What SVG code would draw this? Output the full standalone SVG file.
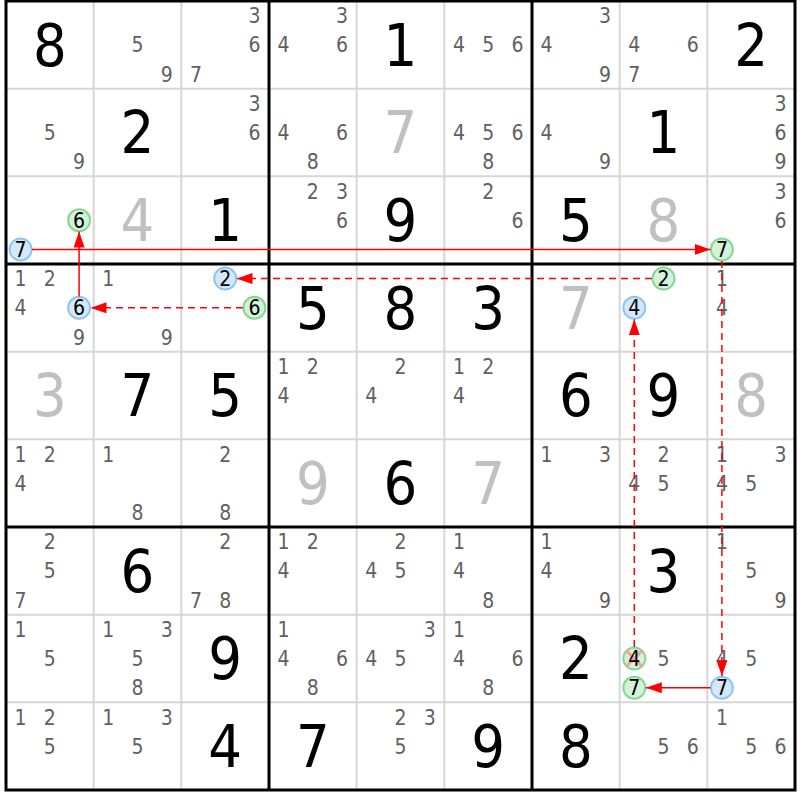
<svg xmlns="http://www.w3.org/2000/svg" width="800" height="800" viewBox="0 0 800 800">
<style>
text{font-family:"DejaVu Sans Condensed","DejaVu Sans",sans-serif;text-anchor:middle}
.k{font-size:59px;fill:#000}
.s{font-size:59px;fill:#c0c0c0}
.c{font-size:21px;fill:#606060}
.n{font-size:21px;fill:#000}
.thin{stroke:#d6d6d6;stroke-width:2}
.thick{stroke:#000;stroke-width:3}
.cb{fill:#d4e8fc;stroke:#90c4f4;stroke-width:2}
.cg{fill:#d4f2da;stroke:#84d890;stroke-width:2}
.a{stroke:#ff0000;stroke-width:1.5;fill:none;marker-end:url(#ah)}
.d{stroke-dasharray:7,5}
</style>
<defs>
<marker id="ah" markerUnits="userSpaceOnUse" markerWidth="16" markerHeight="11" refX="16" refY="5.5" orient="auto">
<path d="M0,0 L16,5.5 L0,11 Z" fill="#ff0000"/>
</marker>
</defs>
<rect x="0" y="0" width="800" height="800" fill="#fff"/>
<g id="grid">
<path class="thin" d="M93.67,1V790M181.33,1V790M356.67,1V790M444.33,1V790M619.67,1V790M707.33,1V790M6,88.67H795M6,176.33H795M6,351.67H795M6,439.33H795M6,614.67H795M6,702.33H795"/>
<path class="thick" d="M269,1V790M532,1V790M6,264H795M6,527H795"/>
<rect class="thick" x="6" y="1" width="789" height="789" fill="none"/>
</g>
<g id="r1">
<text class="k" x="49.8" y="65.5">8</text>
<text class="c" x="137.5" y="52.4">5</text><text class="c" x="166.7" y="81.7">9</text>
<text class="c" x="254.4" y="23.2">3</text><text class="c" x="254.4" y="52.4">6</text><text class="c" x="195.9" y="81.7">7</text>
<text class="c" x="342.1" y="23.2">3</text><text class="c" x="283.6" y="52.4">4</text><text class="c" x="342.1" y="52.4">6</text>
<text class="k" x="400.5" y="65.5">1</text>
<text class="c" x="458.9" y="52.4">4</text><text class="c" x="488.2" y="52.4">5</text><text class="c" x="517.4" y="52.4">6</text>
<text class="c" x="605.1" y="23.2">3</text><text class="c" x="546.6" y="52.4">4</text><text class="c" x="605.1" y="81.7">9</text>
<text class="c" x="634.3" y="52.4">4</text><text class="c" x="692.7" y="52.4">6</text><text class="c" x="634.3" y="81.7">7</text>
<text class="k" x="751.2" y="65.5">2</text>
</g>
<g id="r2">
<text class="c" x="49.8" y="140.1">5</text><text class="c" x="79.1" y="169.4">9</text>
<text class="k" x="137.5" y="153.2">2</text>
<text class="c" x="254.4" y="110.9">3</text><text class="c" x="254.4" y="140.1">6</text>
<text class="c" x="283.6" y="140.1">4</text><text class="c" x="342.1" y="140.1">6</text><text class="c" x="312.8" y="169.4">8</text>
<text class="s" x="400.5" y="153.2">7</text>
<text class="c" x="458.9" y="140.1">4</text><text class="c" x="488.2" y="140.1">5</text><text class="c" x="517.4" y="140.1">6</text><text class="c" x="488.2" y="169.4">8</text>
<text class="c" x="546.6" y="140.1">4</text><text class="c" x="605.1" y="169.4">9</text>
<text class="k" x="663.5" y="153.2">1</text>
<text class="c" x="780.4" y="110.9">3</text><text class="c" x="780.4" y="140.1">6</text><text class="c" x="780.4" y="169.4">9</text>
</g>
<g id="r3">
<text class="s" x="137.5" y="240.8">4</text>
<text class="k" x="225.2" y="240.8">1</text>
<text class="c" x="312.8" y="198.5">2</text><text class="c" x="342.1" y="198.5">3</text><text class="c" x="342.1" y="227.7">6</text>
<text class="k" x="400.5" y="240.8">9</text>
<text class="c" x="488.2" y="198.5">2</text><text class="c" x="517.4" y="227.7">6</text>
<text class="k" x="575.8" y="240.8">5</text>
<text class="s" x="663.5" y="240.8">8</text>
<text class="c" x="780.4" y="198.5">3</text><text class="c" x="780.4" y="227.7">6</text>
</g>
<g id="r4">
<text class="c" x="20.6" y="286.2">1</text><text class="c" x="49.8" y="286.2">2</text><text class="c" x="20.6" y="315.4">4</text><text class="c" x="79.1" y="344.7">9</text>
<text class="c" x="108.3" y="286.2">1</text><text class="c" x="166.7" y="344.7">9</text>
<text class="k" x="312.8" y="328.5">5</text>
<text class="k" x="400.5" y="328.5">8</text>
<text class="k" x="488.2" y="328.5">3</text>
<text class="s" x="575.8" y="328.5">7</text>
<text class="c" x="721.9" y="286.2">1</text><text class="c" x="721.9" y="315.4">4</text>
</g>
<g id="r5">
<text class="s" x="49.8" y="416.2">3</text>
<text class="k" x="137.5" y="416.2">7</text>
<text class="k" x="225.2" y="416.2">5</text>
<text class="c" x="283.6" y="373.9">1</text><text class="c" x="312.8" y="373.9">2</text><text class="c" x="283.6" y="403.1">4</text>
<text class="c" x="400.5" y="373.9">2</text><text class="c" x="371.3" y="403.1">4</text>
<text class="c" x="458.9" y="373.9">1</text><text class="c" x="488.2" y="373.9">2</text><text class="c" x="458.9" y="403.1">4</text>
<text class="k" x="575.8" y="416.2">6</text>
<text class="k" x="663.5" y="416.2">9</text>
<text class="s" x="751.2" y="416.2">8</text>
</g>
<g id="r6">
<text class="c" x="20.6" y="461.5">1</text><text class="c" x="49.8" y="461.5">2</text><text class="c" x="20.6" y="490.7">4</text>
<text class="c" x="108.3" y="461.5">1</text><text class="c" x="137.5" y="520">8</text>
<text class="c" x="225.2" y="461.5">2</text><text class="c" x="225.2" y="520">8</text>
<text class="s" x="312.8" y="503.8">9</text>
<text class="k" x="400.5" y="503.8">6</text>
<text class="s" x="488.2" y="503.8">7</text>
<text class="c" x="546.6" y="461.5">1</text><text class="c" x="605.1" y="461.5">3</text>
<text class="c" x="663.5" y="461.5">2</text><text class="c" x="634.3" y="490.7">4</text><text class="c" x="663.5" y="490.7">5</text>
<text class="c" x="721.9" y="461.5">1</text><text class="c" x="780.4" y="461.5">3</text><text class="c" x="721.9" y="490.7">4</text><text class="c" x="751.2" y="490.7">5</text>
</g>
<g id="r7">
<text class="c" x="49.8" y="549.2">2</text><text class="c" x="49.8" y="578.4">5</text><text class="c" x="20.6" y="607.7">7</text>
<text class="k" x="137.5" y="591.5">6</text>
<text class="c" x="225.2" y="549.2">2</text><text class="c" x="195.9" y="607.7">7</text><text class="c" x="225.2" y="607.7">8</text>
<text class="c" x="283.6" y="549.2">1</text><text class="c" x="312.8" y="549.2">2</text><text class="c" x="283.6" y="578.4">4</text>
<text class="c" x="400.5" y="549.2">2</text><text class="c" x="371.3" y="578.4">4</text><text class="c" x="400.5" y="578.4">5</text>
<text class="c" x="458.9" y="549.2">1</text><text class="c" x="458.9" y="578.4">4</text><text class="c" x="488.2" y="607.7">8</text>
<text class="c" x="546.6" y="549.2">1</text><text class="c" x="546.6" y="578.4">4</text><text class="c" x="605.1" y="607.7">9</text>
<text class="k" x="663.5" y="591.5">3</text>
<text class="c" x="721.9" y="549.2">1</text><text class="c" x="751.2" y="578.4">5</text><text class="c" x="780.4" y="607.7">9</text>
</g>
<g id="r8">
<text class="c" x="20.6" y="636.9">1</text><text class="c" x="49.8" y="666.1">5</text>
<text class="c" x="108.3" y="636.9">1</text><text class="c" x="166.7" y="636.9">3</text><text class="c" x="137.5" y="666.1">5</text><text class="c" x="137.5" y="695.4">8</text>
<text class="k" x="225.2" y="679.2">9</text>
<text class="c" x="283.6" y="636.9">1</text><text class="c" x="283.6" y="666.1">4</text><text class="c" x="342.1" y="666.1">6</text><text class="c" x="312.8" y="695.4">8</text>
<text class="c" x="429.7" y="636.9">3</text><text class="c" x="371.3" y="666.1">4</text><text class="c" x="400.5" y="666.1">5</text>
<text class="c" x="458.9" y="636.9">1</text><text class="c" x="458.9" y="666.1">4</text><text class="c" x="517.4" y="666.1">6</text><text class="c" x="488.2" y="695.4">8</text>
<text class="k" x="575.8" y="679.2">2</text>
<text class="c" x="663.5" y="666.1">5</text>
<text class="c" x="721.9" y="666.1">4</text><text class="c" x="751.2" y="666.1">5</text>
</g>
<g id="r9">
<text class="c" x="20.6" y="724.5">1</text><text class="c" x="49.8" y="724.5">2</text><text class="c" x="49.8" y="753.7">5</text>
<text class="c" x="108.3" y="724.5">1</text><text class="c" x="166.7" y="724.5">3</text><text class="c" x="137.5" y="753.7">5</text>
<text class="k" x="225.2" y="766.8">4</text>
<text class="k" x="312.8" y="766.8">7</text>
<text class="c" x="400.5" y="724.5">2</text><text class="c" x="429.7" y="724.5">3</text><text class="c" x="400.5" y="753.7">5</text>
<text class="k" x="488.2" y="766.8">9</text>
<text class="k" x="575.8" y="766.8">8</text>
<text class="c" x="663.5" y="753.7">5</text><text class="c" x="692.7" y="753.7">6</text>
<text class="c" x="721.9" y="724.5">1</text><text class="c" x="751.2" y="753.7">5</text><text class="c" x="780.4" y="753.7">6</text>
</g>
<g id="r3c1n6"><circle class="cg" cx="79.1" cy="220.2" r="11"/><text class="n" x="79.1" y="227.8">6</text></g>
<g id="r3c1n7"><circle class="cb" cx="20.6" cy="249.4" r="11"/><text class="n" x="20.6" y="257">7</text></g>
<g id="r3c9n7"><circle class="cg" cx="721.9" cy="249.4" r="11"/><text class="n" x="721.9" y="257">7</text></g>
<g id="r4c1n6"><circle class="cb" cx="79.1" cy="307.8" r="11"/><text class="n" x="79.1" y="315.4">6</text></g>
<g id="r4c3n2"><circle class="cb" cx="225.2" cy="278.6" r="11"/><text class="n" x="225.2" y="286.2">2</text></g>
<g id="r4c3n6"><circle class="cg" cx="254.4" cy="307.8" r="11"/><text class="n" x="254.4" y="315.4">6</text></g>
<g id="r4c8n2"><circle class="cg" cx="663.5" cy="278.6" r="11"/><text class="n" x="663.5" y="286.2">2</text></g>
<g id="r4c8n4"><circle class="cb" cx="634.3" cy="307.8" r="11"/><text class="n" x="634.3" y="315.4">4</text></g>
<g id="r8c8n4"><circle class="cg" cx="634.3" cy="658.5" r="11"/><path d="M626,650.2L642.6,666.8M642.6,650.2L626,666.8" stroke="#f4a0a0" stroke-width="3"/><text class="n" x="634.3" y="666.1">4</text></g>
<g id="r8c8n7"><circle class="cg" cx="634.3" cy="687.7" r="11"/><text class="n" x="634.3" y="695.3">7</text></g>
<g id="r8c9n7"><circle class="cb" cx="721.9" cy="687.7" r="11"/><text class="n" x="721.9" y="695.3">7</text></g>
<g id="links">
<path class="a" d="M32,249.4H710.5"/>
<path class="a" d="M79.1,296.5V231.5"/>
<path class="a d" d="M243,307.8H90.5"/>
<path class="a d" d="M652,278.6H236.5"/>
<path class="a d" d="M634.3,647V319.3"/>
<path class="a d" d="M721.9,261V676.2"/>
<path class="a" d="M710.5,687.7H645.8"/>
</g>
</svg>
